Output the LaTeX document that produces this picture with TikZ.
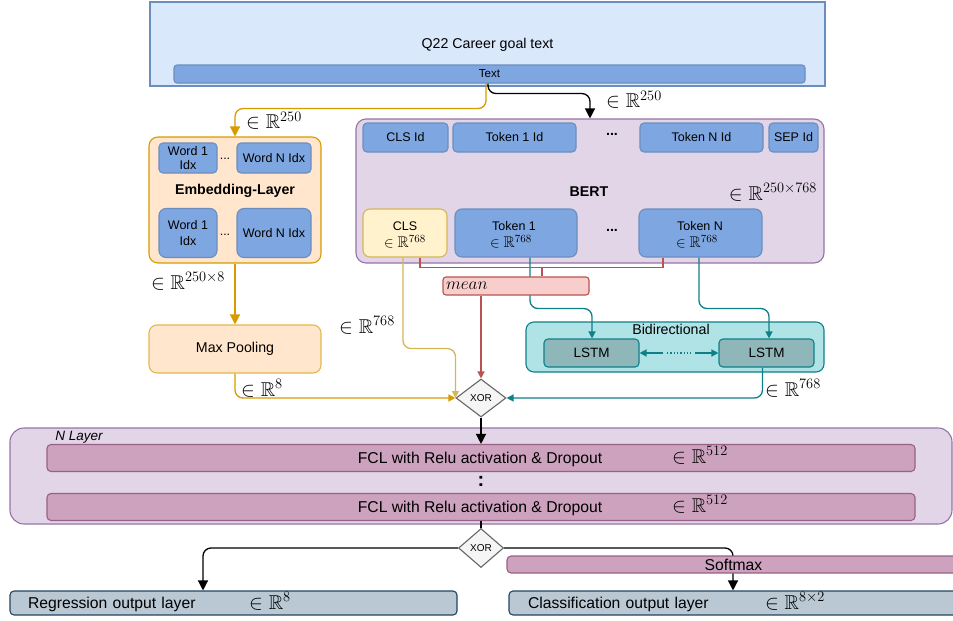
\documentclass[tikz,border=0pt]{standalone}
\usepackage[no-math]{fontspec}
\setmainfont{Liberation Sans}
\usepackage{amssymb}
\usetikzlibrary{arrows.meta,shapes.geometric}

\definecolor{blueFill}{HTML}{DAE8FC}
\definecolor{blueLine}{HTML}{6C8EBF}
\definecolor{blueMid}{HTML}{7EA6E0}
\definecolor{orangeFill}{HTML}{FFE6CC}
\definecolor{orangeLine}{HTML}{D79B00}
\definecolor{purpleFill}{HTML}{E1D5E7}
\definecolor{purpleLine}{HTML}{9673A6}
\definecolor{yellowFill}{HTML}{FFF2CC}
\definecolor{yellowLine}{HTML}{D6B656}
\definecolor{redFill}{HTML}{F8CECC}
\definecolor{redLine}{HTML}{B85450}
\definecolor{tealFill}{HTML}{B0E3E6}
\definecolor{tealLine}{HTML}{0E8088}
\definecolor{lstmFill}{HTML}{8FB6B8}
\definecolor{fclFill}{HTML}{CDA2BE}
\definecolor{fclLine}{HTML}{996185}
\definecolor{outFill}{HTML}{BAC8D3}
\definecolor{outLine}{HTML}{23445D}
\definecolor{xorFill}{HTML}{F5F5F5}
\definecolor{xorLine}{HTML}{666666}

\tikzset{
  box/.style={draw, line width=1.1pt, rounded corners=4pt, inner sep=1pt, align=center},
  bluebox/.style={box, fill=blueMid, draw=blueLine},
  fA/.style={font=\fontsize{10}{12}\selectfont},
  fB/.style={font=\fontsize{11.6}{13}\selectfont},
  fC/.style={font=\fontsize{12.5}{15}\selectfont},
  fD/.style={font=\fontsize{13.5}{16}\selectfont},
  fE/.style={font=\fontsize{14.2}{16}\selectfont},
  fF/.style={font=\fontsize{15.7}{18}\selectfont},
  dimlabel/.style={inner sep=0pt, font=\fontsize{20}{22}\selectfont},
  xorgate/.style={diamond, draw=xorLine, fill=xorFill, line width=1.1pt, inner sep=0pt, fA},
  conn/.style={line width=1.3pt, rounded corners=8pt},
  bigtip/.style={-{Triangle[length=10pt,width=10pt]}},
  smalltip/.style={-{Triangle[length=7pt,width=7pt]}},
}

\begin{document}
\begin{tikzpicture}[x=1pt, y=-1pt]
\useasboundingbox (0,0) rectangle (953,621);

% ---------- input ----------
\node[box, rounded corners=0pt, fill=blueFill, draw=blueLine, minimum width=675pt, minimum height=84pt] (top) at (487.5,44) {};
\node[fE, inner sep=0pt] (toptitle) at (487.5,45) {Q22 Career goal text};
\node[bluebox, rounded corners=3pt, minimum width=631pt, minimum height=18pt, fB] (textbar) at (489.5,74) {Text};

% ---------- embedding branch ----------
\node[box, rounded corners=9pt, fill=orangeFill, draw=orangeLine, minimum width=172pt, minimum height=126pt] (emb) at (235,200) {};
\node[bluebox, minimum width=58pt, minimum height=30pt, font=\fontsize{12.5}{14}\selectfont] (w1a) at (188,158) {Word 1\\Idx};
\node[fC, inner sep=0pt] (dotsa) at (225,159) {...};
\node[bluebox, minimum width=74pt, minimum height=30pt, fC] (wna) at (274,158) {Word N Idx};
\node[fE, inner sep=0pt] (embtitle) at (235,191) {\bfseries Embedding-Layer};
\node[bluebox, rounded corners=7pt, minimum width=58pt, minimum height=49pt, font=\fontsize{12.5}{16}\selectfont] (w1b) at (188,233) {Word 1\\Idx};
\node[fC, inner sep=0pt] (dotsb) at (225,235) {...};
\node[bluebox, rounded corners=7pt, minimum width=74pt, minimum height=49pt, fC] (wnb) at (274,233) {Word N Idx};

\node[box, rounded corners=8pt, fill=orangeFill, draw=orangeLine!70, minimum width=172pt, minimum height=48pt, fE] (maxp) at (235,349) {Max Pooling};

% ---------- BERT ----------
\node[box, rounded corners=10pt, fill=purpleFill, draw=purpleLine, minimum width=468pt, minimum height=144pt] (bert) at (590,191) {};
\node[bluebox, minimum width=85pt, minimum height=29pt, fC] (clsid) at (405.5,137.5) {CLS Id};
\node[bluebox, minimum width=123pt, minimum height=29pt, fC] (tok1id) at (514.5,137.5) {Token 1 Id};
\node[fE, inner sep=0pt] (dotsc) at (612,134) {\bfseries ...};
\node[bluebox, minimum width=123pt, minimum height=29pt, fC] (tokNid) at (701.5,137.5) {Token N Id};
\node[bluebox, minimum width=49pt, minimum height=29pt, fC] (sepid) at (793.5,137.5) {SEP Id};
\node[fE, inner sep=0pt] (berttitle) at (589,192) {\bfseries BERT};
\node[dimlabel] (bertdim) at (773,192) {$\in\mathbb{R}^{250\times768}$};

\node[box, rounded corners=7pt, fill=yellowFill, draw=yellowLine, minimum width=84pt, minimum height=48pt] (cls) at (405,233) {};
\node[fC, inner sep=0pt] (clsname) at (405,226) {CLS};
\node[inner sep=0pt, font=\fontsize{15.5}{17}\selectfont] (clsdim) at (405,242) {$\in\mathbb{R}^{768}$};
\node[bluebox, rounded corners=7pt, minimum width=122pt, minimum height=48pt] (tok1) at (516,233) {};
\node[fC, inner sep=0pt] (tok1name) at (514,226) {Token 1};
\node[inner sep=0pt, font=\fontsize{15.5}{17}\selectfont] (tok1dim) at (511,242) {$\in\mathbb{R}^{768}$};
\node[fE, inner sep=0pt] (dotsd) at (612,230) {\bfseries ...};
\node[bluebox, rounded corners=7pt, minimum width=123pt, minimum height=48pt] (tokN) at (700.5,233) {};
\node[fC, inner sep=0pt] (tokNname) at (700,226) {Token N};
\node[inner sep=0pt, font=\fontsize{15.5}{17}\selectfont] (tokNdim) at (697,242) {$\in\mathbb{R}^{768}$};

% ---------- LSTM block ----------
\node[box, rounded corners=8pt, fill=tealFill, draw=tealLine, minimum width=298pt, minimum height=50pt] (bidir) at (675,347) {};
\node[fE, inner sep=0pt] (bidirtitle) at (671,329) {Bidirectional};
\node[box, fill=lstmFill, draw=tealLine, minimum width=95pt, minimum height=28pt, fD] (lstm1) at (591.5,353) {LSTM};
\node[box, fill=lstmFill, draw=tealLine, minimum width=95pt, minimum height=28pt, fD] (lstm2) at (766.5,353) {LSTM};
\coordinate (bia) at (663,353);
\coordinate (bib) at (667,353);
\coordinate (bic) at (691,353);
\coordinate (bid) at (695,353);
\draw[line width=1.3pt, tealLine, smalltip] (bia) -- (lstm1.east);
\draw[line width=1.3pt, tealLine, dotted] (bib) -- (bic);
\draw[line width=1.3pt, tealLine, smalltip] (bid) -- (lstm2.west);

% ---------- merge ----------
\node[xorgate, minimum width=50pt, minimum height=38pt] (xor) at (481,398) {XOR};

% teal connectors into the LSTMs (behind the mean box)
\draw[conn, tealLine, smalltip] ([xshift=14pt]tok1.south) -- ++(0,51) -| ([xshift=0.5pt]lstm1.north);
\draw[conn, tealLine, smalltip] ([xshift=-1.5pt]tokN.south) -- ++(0,51) -| ([xshift=2.5pt]lstm2.north);

% mean over tokens
\draw[line width=1.3pt, redLine] ([xshift=15pt]cls.south) -- ++(0,10) -| ([xshift=-37.5pt]tokN.south);
\node[box, rounded corners=3pt, fill=redFill, draw=redLine, minimum width=146pt, minimum height=18pt, text width=140pt, align=left, inner sep=3pt, font=\fontsize{17}{18}\selectfont] (mean) at (516,286) {$mean$};
\coordinate (rj) at (542,267);
\draw[line width=1.3pt, redLine] (rj) -- (rj |- mean.north);
\draw[line width=1.3pt, redLine, smalltip] (mean.south -| xor.north) -- (xor.north);

% inputs to the XOR gate
\draw[conn, yellowLine, smalltip] ([xshift=-2pt]cls.south) -- ++(0,91) -| (xor.west);
\draw[conn, orangeLine, smalltip] (maxp.south) |- (xor.west);
\draw[conn, tealLine, smalltip] ([xshift=-4pt]lstm2.south) |- (xor.east);

% text to the two branches
\draw[conn, orangeLine, bigtip] ([xshift=-3.5pt]textbar.south) -- ++(0,25) -| (emb.north);
\draw[conn, black, bigtip] ([xshift=-1.5pt]textbar.south) -- ++(0,10) -| (bert.north);
\draw[conn, orangeLine, bigtip] (emb.south) -- (maxp.north);

% dimension labels
\node[dimlabel] (d250a) at (274,121) {$\in\mathbb{R}^{250}$};
\node[dimlabel] (d250b) at (634,100) {$\in\mathbb{R}^{250}$};
\node[dimlabel] (d2508) at (188,281) {$\in\mathbb{R}^{250\times8}$};
\node[dimlabel] (d8) at (262,388) {$\in\mathbb{R}^{8}$};
\node[dimlabel] (d768a) at (367,325) {$\in\mathbb{R}^{768}$};
\node[dimlabel] (d768b) at (793,388) {$\in\mathbb{R}^{768}$};

% ---------- dense layers ----------
\node[box, rounded corners=14pt, fill=purpleFill, draw=purpleLine, minimum width=942pt, minimum height=96pt] (nlayer) at (481,476) {};
\node[inner sep=0pt, font=\fontsize{13.5}{16}\selectfont\itshape] (nlayertxt) at (79,437) {N Layer};
\node[box, fill=fclFill, draw=fclLine, minimum width=868pt, minimum height=27pt] (fcl1) at (481,458) {};
\node[fF, inner sep=0pt] (fcl1txt) at (480,459) {FCL with Relu activation \& Dropout};
\node[dimlabel] (d512a) at (700,455) {$\in\mathbb{R}^{512}$};
\node[inner sep=0pt, font=\fontsize{20}{22}\selectfont\bfseries] (vdots) at (481,481) {:};
\node[box, fill=fclFill, draw=fclLine, minimum width=868pt, minimum height=27pt] (fcl2) at (481,507) {};
\node[fF, inner sep=0pt] (fcl2txt) at (480,508) {FCL with Relu activation \& Dropout};
\node[dimlabel] (d512b) at (700,504) {$\in\mathbb{R}^{512}$};
\draw[line width=1.3pt, black, bigtip] (xor.south) -- (fcl1.north);

% ---------- outputs ----------
\node[xorgate, minimum width=45pt, minimum height=39pt] (xor2) at (481,548) {XOR};
\draw[line width=1.3pt, black] (fcl2.south) -- (xor2.north);

\node[box, fill=outFill, draw=outLine, minimum width=447pt, minimum height=24pt, text width=411pt, align=left, inner sep=0pt, text depth=0pt, fF] (reg) at (233.5,603) {Regression output layer};
\node[dimlabel] (d8out) at (270,601) {$\in\mathbb{R}^{8}$};
\node[box, fill=outFill, draw=outLine, minimum width=451pt, minimum height=24pt, text width=413pt, align=left, inner sep=0pt, text depth=0pt, fF] (clsout) at (734.5,603) {Classification output layer};
\node[dimlabel] (d82) at (795,601) {$\in\mathbb{R}^{8\times2}$};

\draw[conn, black, bigtip] (xor2.west) -| ([xshift=-30.5pt]reg.north);
\draw[conn, black, bigtip] (xor2.east) -| ([xshift=-1.5pt]clsout.north);
\node[box, rounded corners=4pt, fill=fclFill, draw=fclLine, minimum width=453pt, minimum height=17pt, fF] (softmax) at (733.5,564.5) {Softmax};
\end{tikzpicture}
\end{document}
